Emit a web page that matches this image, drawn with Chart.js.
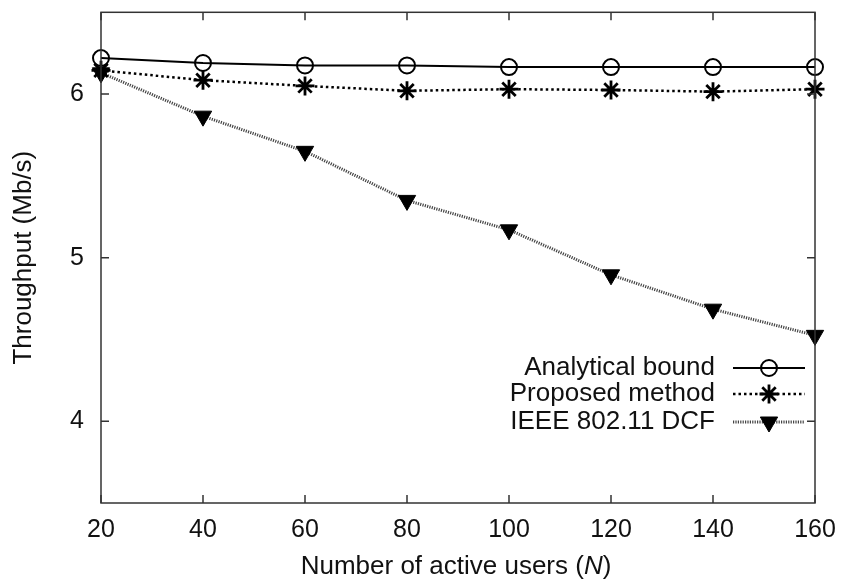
<!DOCTYPE html>
<html lang="en">
<head>
  <meta charset="UTF-8" />
  <title>Throughput vs number of active users</title>
  <script src="https://cdn.jsdelivr.net/npm/chart.js@4"></script>
  <style>
    html, body { margin: 0; padding: 0; background: #fff; }
    #wrap { width: 843px; height: 582px; position: relative; }
  </style>
</head>
<body>
  <div id="wrap"><canvas id="myChart" width="843" height="582"></canvas></div>

  <script>
    // values
    const usersN = [20, 40, 60, 80, 100, 120, 140, 160];
    const analyticalBound = [6.22, 6.19, 6.175, 6.175, 6.165, 6.165, 6.165, 6.165];
    const proposedMethod = [6.145, 6.085, 6.05, 6.02, 6.03, 6.025, 6.015, 6.03];
    const ieeeDcf = [6.13, 5.865, 5.65, 5.35, 5.17, 4.895, 4.685, 4.525];
    const yTickValues = [4, 5, 6];
    const seriesNames = ["Analytical bound", "Proposed method", "IEEE 802.11 DCF"];

    const FONT = "'Liberation Sans', Arial, Helvetica, sans-serif";
    const FS = 25;       // tick labels
    const FS_TEXT = 26;  // axis titles and legend

    function toPoints(ys) {
      return usersN.map((x, i) => ({ x: x, y: ys[i] }));
    }

    // line + marker styles (also reused for the legend)
    const styles = [
      { color: "#000", width: 2, dash: [], point: "circle", radius: 8, rot: 0, fill: "rgba(0,0,0,0)", pw: 2 },
      { color: "#000", width: 2.5, dash: [2.5, 3], point: "star", radius: 9.5, rot: 0, fill: "#000", pw: 2.8 },
      { color: "#444", width: 3, dash: [1.2, 1.2], point: "triangle", radius: 10, rot: 180, fill: "#000", pw: 1 }
    ];
    const seriesData = [analyticalBound, proposedMethod, ieeeDcf];

    const datasets = seriesData.map((ys, i) => {
      const s = styles[i];
      return {
        label: seriesNames[i],
        data: toPoints(ys),
        borderColor: s.color,
        borderWidth: s.width,
        borderDash: s.dash,
        pointStyle: s.point,
        pointRadius: s.radius,
        pointRotation: s.rot,
        pointBorderColor: "#000",
        pointBackgroundColor: s.fill,
        pointBorderWidth: s.pw,
        tension: 0,
        clip: false
      };
    });

    // frame, inward ticks, x title and the in-plot legend
    const gnuplotLook = {
      id: "gnuplotLook",
      afterDraw(chart) {
        const ctx = chart.ctx;
        const a = chart.chartArea;
        const xs = chart.scales.x, ys = chart.scales.y;
        ctx.save();
        ctx.strokeStyle = "#333";
        ctx.lineWidth = 1.5;
        ctx.setLineDash([]);
        ctx.strokeRect(a.left, a.top, a.right - a.left, a.bottom - a.top);

        const tl = 8;
        ctx.beginPath();
        usersN.forEach((v) => {
          const px = xs.getPixelForValue(v);
          ctx.moveTo(px, a.bottom); ctx.lineTo(px, a.bottom - tl);
          ctx.moveTo(px, a.top); ctx.lineTo(px, a.top + tl);
        });
        yTickValues.forEach((v) => {
          const py = ys.getPixelForValue(v);
          ctx.moveTo(a.left, py); ctx.lineTo(a.left + tl, py);
          ctx.moveTo(a.right, py); ctx.lineTo(a.right - tl, py);
        });
        ctx.stroke();

        // x axis title with italic N
        ctx.fillStyle = "#111";
        ctx.textBaseline = "middle";
        const p1 = "Number of active users (", p2 = "N", p3 = ")";
        const reg = FS_TEXT + "px " + FONT, ital = "italic " + FS_TEXT + "px " + FONT;
        ctx.font = reg;
        const w1 = ctx.measureText(p1).width, w3 = ctx.measureText(p3).width;
        ctx.font = ital;
        const w2 = ctx.measureText(p2).width;
        let tx = 456 - (w1 + w2 + w3) / 2;
        const ty = 567;
        ctx.textAlign = "left";
        ctx.font = reg;
        ctx.fillText(p1, tx, ty);
        ctx.font = ital;
        ctx.fillText(p2, tx + w1, ty);
        ctx.font = reg;
        ctx.fillText(p3, tx + w1 + w2, ty);

        // legend
        const rows = [368, 394, 422];
        ctx.textAlign = "right";
        seriesNames.forEach((name, i) => {
          const s = styles[i];
          const y = rows[i];
          ctx.fillStyle = "#111";
          ctx.font = reg;
          ctx.fillText(name, 715, y);
          ctx.strokeStyle = s.color;
          ctx.lineWidth = s.width;
          ctx.setLineDash(s.dash);
          ctx.beginPath();
          ctx.moveTo(733, y); ctx.lineTo(805, y);
          ctx.stroke();
          ctx.setLineDash([]);
          ctx.strokeStyle = "#000";
          ctx.fillStyle = s.fill;
          ctx.lineWidth = s.pw;
          Chart.helpers.drawPoint(ctx, {
            pointStyle: s.point, radius: s.radius, rotation: s.rot, borderWidth: s.pw
          }, 769, y);
        });
        ctx.restore();
      }
    };

    const ctx = document.getElementById("myChart").getContext("2d");
    const chart = new Chart(ctx, {
      type: "line",
      data: { datasets },
      plugins: [gnuplotLook],
      options: {
        responsive: false,
        animation: false,
        layout: { padding: { top: 10, right: 28, left: 0, bottom: 0 } },
        plugins: {
          legend: { display: false },
          tooltip: { enabled: false }
        },
        scales: {
          x: {
            type: "linear",
            min: 20,
            max: 160,
            grid: { display: false, drawTicks: false },
            border: { display: false },
            afterBuildTicks: (s) => { s.ticks = usersN.map((v) => ({ value: v })); },
            afterFit: (s) => {
              s.height = 79;
              s.paddingLeft = 0; s.paddingRight = 0;
            },
            ticks: {
              color: "#111",
              padding: 12,
              maxRotation: 0,
              font: { family: FONT, size: FS }
            }
          },
          y: {
            min: 3.5,
            max: 6.5,
            grid: { display: false, drawTicks: false },
            border: { display: false },
            afterBuildTicks: (s) => { s.ticks = yTickValues.map((v) => ({ value: v })); },
            afterFit: (s) => {
              s.width = 101;
              s.paddingTop = 0; s.paddingBottom = 0;
            },
            ticks: {
              color: "#111",
              padding: 17,
              font: { family: FONT, size: FS }
            },
            title: {
              display: true,
              text: "Throughput (Mb/s)",
              color: "#111",
              padding: { top: 8, bottom: 0 },
              font: { family: FONT, size: FS_TEXT }
            }
          }
        }
      }
    });
  </script>
</body>
</html>
